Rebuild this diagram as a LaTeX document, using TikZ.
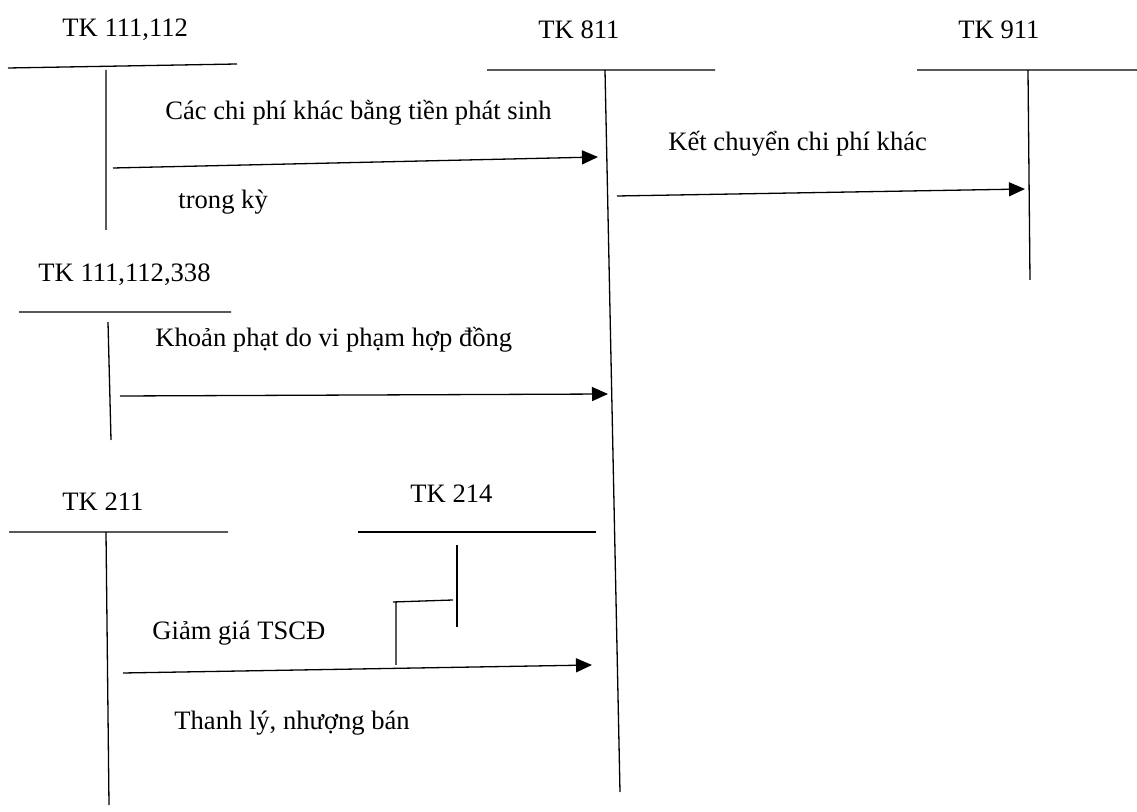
\documentclass[tikz,border=0pt]{standalone}
\usepackage{fontspec}
\setmainfont{Liberation Serif}
\usetikzlibrary{arrows.meta}
\begin{document}
\begin{tikzpicture}[x=0.5pt,y=-0.5pt,
  acct/.style={line width=0.65pt},
  flow/.style={line width=0.65pt,-{Triangle[length=8pt,width=7pt]}},
  lbl/.style={anchor=base west,inner sep=0pt,font=\fontsize{13.3}{16}\selectfont}]
\useasboundingbox (0,0) rectangle (1137,812);
% ---- account labels
\node[lbl] (t1) at (62,37) {TK 111,112};
\node[lbl] (t811) at (538,39) {TK 811};
\node[lbl] (t911) at (958,39) {TK 911};
\node[lbl] (t2) at (38,282) {TK 111,112,338};
\node[lbl] (t211) at (62,511) {TK 211};
\node[lbl] (t214) at (410,503) {TK 214};
% ---- T-account lines
\coordinate (a1l) at (8,68); \coordinate (a1r) at (237,64);
\coordinate (a1t) at (106,70); \coordinate (a1b) at (106,230);
\coordinate (bl) at (487,70); \coordinate (br) at (715,70);
\coordinate (bt) at (605,70); \coordinate (bb) at (620,792);
\coordinate (cl) at (917,70); \coordinate (cr) at (1137,70);
\coordinate (ct) at (1028,70); \coordinate (cb) at (1030,280);
\coordinate (dl) at (19,312); \coordinate (dr) at (231,312);
\coordinate (dt) at (108,322); \coordinate (db) at (111,440);
\coordinate (el) at (9,532); \coordinate (er) at (228,532);
\coordinate (et) at (106,532); \coordinate (eb) at (109,805);
\coordinate (fl) at (358,532); \coordinate (fr) at (596,532);
\coordinate (ft) at (457,545); \coordinate (fb) at (457,627);
\draw[acct] (a1l) -- (a1r) (a1t) -- (a1b);
\draw[acct] (bl) -- (br) (bt) -- (bb);
\draw[acct] (cl) -- (cr) (ct) -- (cb);
\draw[acct] (dl) -- (dr) (dt) -- (db);
\draw[acct] (el) -- (er) (et) -- (eb);
\draw[acct] (fl) -- (fr) (ft) -- (fb);
% ---- step from TK 214
\coordinate (s1) at (453,600); \coordinate (s2) at (393,602);
\coordinate (s3) at (396,602); \coordinate (s4) at (396,665);
\draw[acct] (s1) -- (s2) (s3) -- (s4);
% ---- flows
\coordinate (f1s) at (113,168); \coordinate (f1e) at (598,157);
\coordinate (f2s) at (617,196); \coordinate (f2e) at (1025,189);
\coordinate (f3s) at (120,396); \coordinate (f3e) at (608,394);
\coordinate (f4s) at (123,673); \coordinate (f4e) at (592,665);
\draw[flow] (f1s) -- (f1e);
\draw[flow] (f2s) -- (f2e);
\draw[flow] (f3s) -- (f3e);
\draw[flow] (f4s) -- (f4e);
% ---- flow texts
\node[lbl] (x1) at (165,120) {Các chi phí khác bằng tiền phát sinh};
\node[lbl] (x2) at (178,209) {trong kỳ};
\node[lbl] (x3) at (668,151) {Kết chuyển chi phí khác};
\node[lbl] (x4) at (155,347) {Khoản phạt do vi phạm hợp đồng};
\node[lbl] (x5) at (152,640) {Giảm giá TSCĐ};
\node[lbl] (x6) at (174,730) {Thanh lý, nhượng bán};
\end{tikzpicture}
\end{document}
